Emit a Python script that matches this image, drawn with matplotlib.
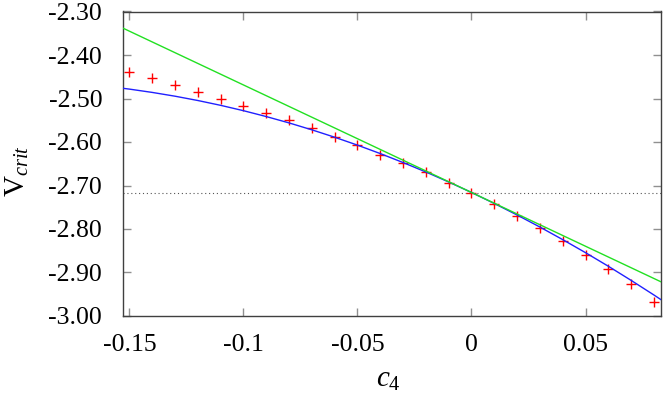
import matplotlib
matplotlib.use("Agg")
import matplotlib.pyplot as plt

# data
c4_pts = [-0.15, -0.14, -0.13, -0.12, -0.11, -0.10, -0.09, -0.08, -0.07, -0.06,
          -0.05, -0.04, -0.03, -0.02, -0.01, 0.00, 0.01, 0.02, 0.03, 0.04,
          0.05, 0.06, 0.07, 0.08]
vcrit_pts = [-2.440, -2.454, -2.470, -2.484, -2.500, -2.517, -2.534, -2.550, -2.568, -2.589,
             -2.608, -2.629, -2.649, -2.670, -2.694, -2.718, -2.743, -2.770, -2.798, -2.827,
             -2.860, -2.892, -2.927, -2.967]

blue_x = [-0.16, -0.15, -0.14, -0.13, -0.12, -0.11, -0.10, -0.09, -0.08, -0.07,
          -0.06, -0.05, -0.04, -0.03, -0.02, -0.01, 0.00, 0.01, 0.02, 0.03,
          0.04, 0.05, 0.06, 0.07, 0.08, 0.09]
blue_y = [-2.4720, -2.4784, -2.4860, -2.4947, -2.5046, -2.5157, -2.5280, -2.5415, -2.5561, -2.5720,
          -2.5890, -2.6072, -2.6266, -2.6472, -2.6689, -2.6919, -2.7160, -2.7413, -2.7678, -2.7955,
          -2.8244, -2.8544, -2.8856, -2.9181, -2.9517, -2.9864]

green_x = [-0.16, 0.09]
green_y = [-2.3205, -2.9385]

ref_level = -2.717

xticks = [-0.15, -0.1, -0.05, 0, 0.05]
xtick_labels = ["-0.15", "-0.1", "-0.05", "0", "0.05"]
yticks = [-3.0, -2.9, -2.8, -2.7, -2.6, -2.5, -2.4, -2.3]
ytick_labels = ["-3.00", "-2.90", "-2.80", "-2.70", "-2.60", "-2.50", "-2.40", "-2.30"]

plt.rcParams['font.family'] = ['Liberation Serif', 'DejaVu Serif']
plt.rcParams['mathtext.fontset'] = 'custom'
plt.rcParams['mathtext.rm'] = 'Liberation Serif'
plt.rcParams['mathtext.it'] = 'Liberation Serif:italic'

fig = plt.figure(figsize=(6.64, 3.98), dpi=100)
ax = fig.add_axes([123/664, 1 - 316/398, (661-123)/664, (316-11.5)/398])

ax.plot(c4_pts, vcrit_pts, linestyle='none', marker='+', color='#ff0000',
        markersize=7, markeredgewidth=1.0, zorder=3)
ax.plot(blue_x, blue_y, color='#2020ff', linewidth=1.0, zorder=4)
ax.plot(green_x, green_y, color='#22e022', linewidth=1.0, zorder=4)
ax.axhline(ref_level, color='#555555', linewidth=0.8, linestyle=(0, (1, 2.5)), zorder=2)

ax.set_xlim(-0.1528, 0.0831)
ax.set_ylim(-3.0, -2.3)
ax.set_xticks(xticks)
ax.set_xticklabels(xtick_labels)
ax.set_yticks(yticks)
ax.set_yticklabels(ytick_labels)

ax.tick_params(direction='in', length=6, width=1, color='#909090',
               top=True, right=True, labelsize=18.5, labelcolor='black')
ax.tick_params(axis='y', pad=15)
ax.tick_params(axis='x', pad=13)
for s in ax.spines.values():
    s.set_color('#404040')
    s.set_linewidth(1.0)

ax.set_ylabel(r'$\mathrm{V}_{crit}$', fontsize=21, va='center')
ax.set_xlabel(r'$c_{4}$', fontsize=21, va='center')
ax.yaxis.set_label_coords((17 - 123) / 538, (316 - 171.5) / 304.5)
ax.xaxis.set_label_coords((388 - 123) / 538, (316 - 380) / 304.5)

fig.savefig("out.png", dpi=100)
